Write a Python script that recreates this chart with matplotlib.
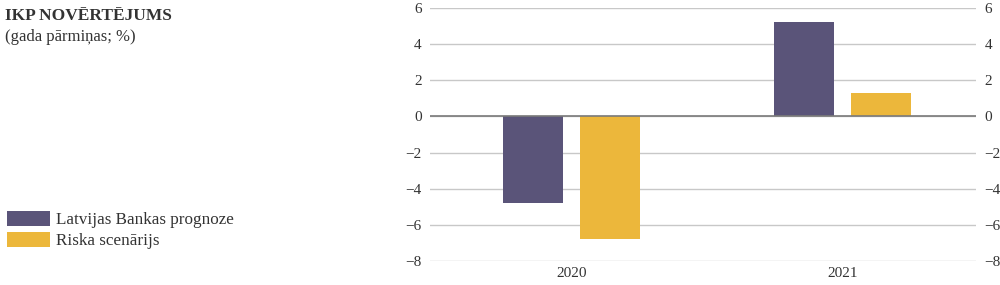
import numpy as np
import matplotlib.pyplot as plt

years = ['2020', '2021']
lb_forecast = [-4.8, 5.2]
risk_scenario = [-6.8, 1.3]
series_names = ['Latvijas Bankas prognoze', 'Riska scenārijs']
yticks = [-8, -6, -4, -2, 0, 2, 4, 6]

plt.rcParams['font.family'] = ['Liberation Serif', 'DejaVu Serif']

fig = plt.figure(figsize=(10, 2.85), dpi=100)
ax = fig.add_axes([0.430, 0.084, 0.546, 0.888])

x = np.arange(len(years))
w = 0.222
b1 = ax.bar(x - 0.142, lb_forecast, w, color='#5a5479', zorder=3, label=series_names[0])
b2 = ax.bar(x + 0.142, risk_scenario, w, color='#ecb73b', zorder=3, label=series_names[1])

ax.set_xlim(-0.523, 1.494)
ax.set_ylim(-8, 6)
ax.set_yticks(yticks)
ax.set_yticklabels([str(t).replace('-', '\u2212') for t in yticks])
ax.set_xticks(x)
ax.set_xticklabels(years)
ax.grid(axis='y', color='#c8c8c8', linewidth=1, zorder=0)
ax.axhline(0, color='#7a7a7a', linewidth=1.2, zorder=4)
for s in ax.spines.values():
    s.set_visible(False)
ax.tick_params(axis='both', length=0, labelsize=11, colors='#333333')
ax.tick_params(axis='y', left=False, right=False, labelleft=True, labelright=True, pad=6)
ax.tick_params(axis='x', pad=4)

fig.text(0.005, 0.945, 'IKP NOVĒRTĒJUMS', fontsize=12.5, fontweight='bold',
         color='#333333', va='center', ha='left')
fig.text(0.005, 0.87, '(gada pārmiņas; %)', fontsize=12, color='#333333',
         va='center', ha='left')

fig.legend(handles=[b1, b2], loc='upper left', bbox_to_anchor=(0.0, 0.285),
           frameon=False, fontsize=12.3, handlelength=2.5, handleheight=1.0,
           handletextpad=0.4, labelspacing=0.2, borderaxespad=0.2, borderpad=0.2,
           labelcolor='#333333')

fig.savefig('out.png', dpi=100)
